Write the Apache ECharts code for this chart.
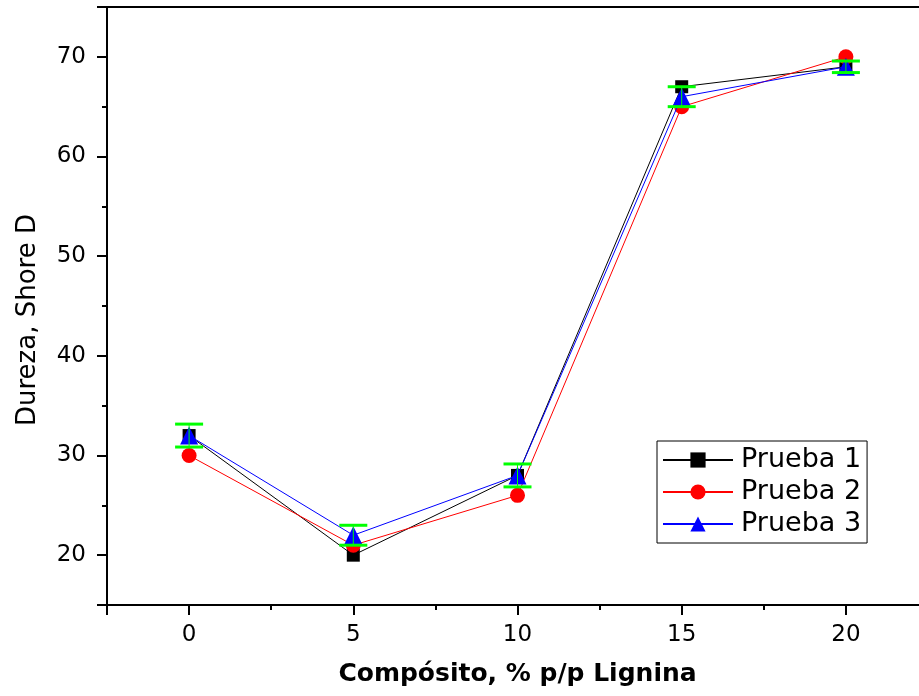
<!DOCTYPE html>
<html>
<head>
<meta charset="utf-8">
<script src="https://cdn.jsdelivr.net/npm/echarts@6/dist/echarts.min.js"></script>
<style>html,body{margin:0;padding:0;background:#fff;overflow:hidden;}#c{width:930px;height:696px;}</style>
</head>
<body>
<div id="c"></div>
<script>
const xValues = [0, 5, 10, 15, 20];
const prueba1 = [32, 20, 28, 67, 69];
const prueba2 = [30, 21, 26, 65, 70];
const prueba3 = [32, 22, 28, 66, 69];
const errHalf = [1.15, 1.0, 1.15, 1.0, 0.58];
const seriesNames = ['Prueba 1', 'Prueba 2', 'Prueba 3'];
const xTitle = 'Compósito, % p/p Lignina';
const yTitle = 'Dureza, Shore D';

const FONT = '"DejaVu Sans", "Liberation Sans", Arial, sans-serif';
const pairs = arr => xValues.map((x, i) => [x, arr[i]]);
const errData = xValues.map((x, i) => [x, prueba3[i] - errHalf[i], prueba3[i] + errHalf[i]]);

const chart = echarts.init(document.getElementById('c'), null, {renderer: 'canvas'});

const axisLineStyle = {color: '#000', width: 2};

const option = {
  animation: false,
  backgroundColor: '#fff',
  grid: {left: 107, top: 7, width: 821, height: 598, containLabel: false, outerBoundsMode: 'none'},
  xAxis: [
    {
      type: 'value', min: -2.5, max: 22.5, position: 'bottom',
      axisLine: {show: true, onZero: false, lineStyle: axisLineStyle},
      axisTick: {show: true, inside: false, length: 10, lineStyle: {width: 2, color: '#000'}},
      axisLabel: {show: true, color: '#000', fontSize: 23, fontFamily: FONT, margin: 19,
        formatter: v => (Math.abs(v % 5) < 1e-9 ? String(v) : '')},
      splitLine: {show: false},
      name: xTitle, nameLocation: 'middle', nameGap: 57,
      nameTextStyle: {color: '#000', fontSize: 25, fontWeight: 'bold', fontFamily: FONT}
    },
    {
      type: 'value', min: -2.5, max: 22.5, interval: 5, position: 'bottom',
      axisLine: {show: false, onZero: false},
      axisTick: {show: true, inside: false, length: 5, lineStyle: {width: 2, color: '#000'}},
      axisLabel: {show: false}, splitLine: {show: false}
    },
    {
      type: 'value', min: -2.5, max: 22.5, position: 'top',
      axisLine: {show: true, onZero: false, lineStyle: axisLineStyle},
      axisTick: {show: false}, axisLabel: {show: false}, splitLine: {show: false}
    }
  ],
  yAxis: [
    {
      type: 'value', min: 15, max: 75, position: 'left',
      axisLine: {show: true, onZero: false, lineStyle: axisLineStyle},
      axisTick: {show: true, inside: false, length: 10, lineStyle: {width: 2, color: '#000'}},
      axisLabel: {show: true, color: '#000', fontSize: 23, fontFamily: FONT, margin: 21,
        formatter: v => (Math.abs(v % 10) < 1e-9 ? String(v) : '')},
      splitLine: {show: false}
    },
    {
      type: 'value', min: 15, max: 75, interval: 10, position: 'left',
      axisLine: {show: false, onZero: false},
      axisTick: {show: true, inside: false, length: 5, lineStyle: {width: 2, color: '#000'}},
      axisLabel: {show: false}, splitLine: {show: false}
    }
  ],
  legend: {
    left: 657, top: 441, orient: 'vertical',
    data: seriesNames,
    backgroundColor: '#fff', borderColor: '#000', borderWidth: 1, borderRadius: 0,
    padding: [4, 6, 4, 5],
    itemWidth: 70, itemHeight: 19, itemGap: 2,
    textStyle: {color: '#000', fontSize: 27, fontFamily: FONT, lineHeight: 30, padding: [0, 0, 0, 3]},
    selectedMode: false
  },
  graphic: [
    {
      type: 'text', x: 28, y: 320, rotation: Math.PI / 2,
      style: {text: yTitle, fill: '#000', font: '26px ' + FONT, textAlign: 'center', textVerticalAlign: 'middle'}
    }
  ],
  series: [
    {
      name: seriesNames[0], type: 'line', data: pairs(prueba1),
      symbol: 'rect', symbolSize: 13,
      lineStyle: {color: '#000', width: 1}, itemStyle: {color: '#000'}, z: 3
    },
    {
      name: seriesNames[1], type: 'line', data: pairs(prueba2),
      symbol: 'circle', symbolSize: 15,
      lineStyle: {color: '#ff0000', width: 1}, itemStyle: {color: '#ff0000'}, z: 4
    },
    {
      name: seriesNames[2], type: 'line', data: pairs(prueba3),
      symbol: 'triangle', symbolSize: 18,
      lineStyle: {color: '#0000ff', width: 1}, itemStyle: {color: '#0000ff'}, z: 5
    },
    {
      type: 'custom', name: 'err', data: errData, z: 10,
      encode: {x: 0, y: [1, 2]},
      renderItem: function (params, api) {
        const x = api.value(0);
        const lo = api.coord([x, api.value(1)]);
        const hi = api.coord([x, api.value(2)]);
        const hw = 14;
        const style = {stroke: '#00ff00', lineWidth: 3};
        return {
          type: 'group',
          children: [
            {type: 'line', shape: {x1: lo[0], y1: lo[1], x2: hi[0], y2: hi[1]}, style: {stroke: '#00ff00', lineWidth: 1}},
            {type: 'line', shape: {x1: lo[0] - hw, y1: lo[1], x2: lo[0] + hw, y2: lo[1]}, style: style},
            {type: 'line', shape: {x1: hi[0] - hw, y1: hi[1], x2: hi[0] + hw, y2: hi[1]}, style: style}
          ]
        };
      }
    }
  ]
};
chart.setOption(option);
</script>
</body>
</html>
